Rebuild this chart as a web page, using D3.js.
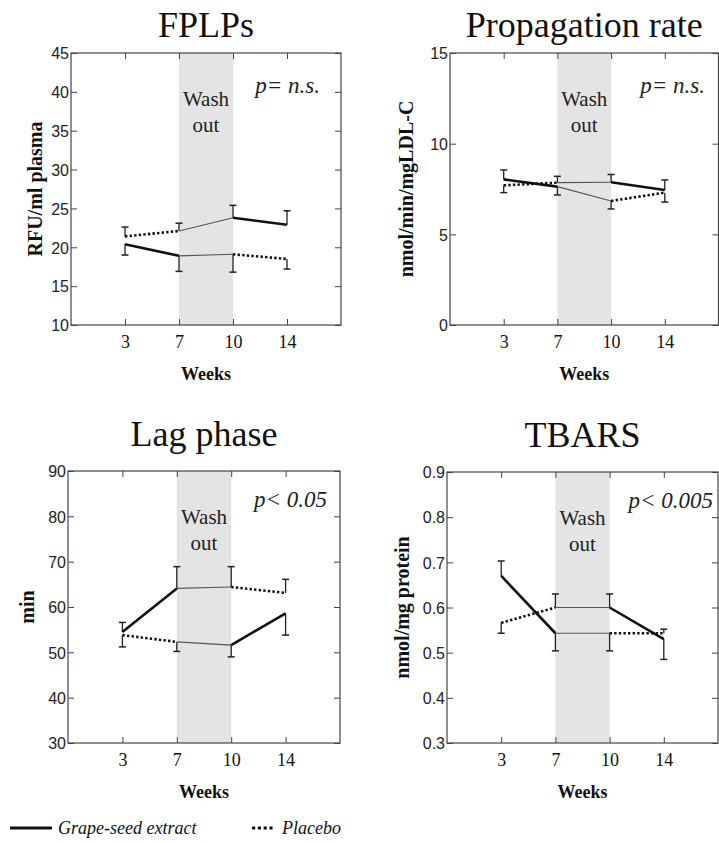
<!DOCTYPE html>
<html>
<head>
<meta charset="utf-8">
<script src="https://cdn.jsdelivr.net/npm/d3@7"></script>
<style>
  html, body { margin: 0; padding: 0; background: #fff; }
  svg { display: block; }
</style>
</head>
<body>
<svg id="chart" width="719" height="843"></svg>
<script>
// ---------------- DATA ----------------
const weeks = ["3", "7", "10", "14"];
// Series A: grape-seed extract first (weeks 3-7), wash-out (7-10), placebo (10-14)
// Series B: placebo first (weeks 3-7), wash-out (7-10), grape-seed extract (10-14)
// "Err" arrays hold the end of each error bar (SEM)

const fplpA    = [20.4, 18.9, 19.1, 18.5];
const fplpAErr = [19.0, 16.9, 16.8, 17.2];
const fplpB    = [21.4, 22.1, 23.8, 22.9];
const fplpBErr = [22.6, 23.1, 25.4, 24.7];
const fplpTicks = [10, 15, 20, 25, 30, 35, 40, 45];

const propA    = [8.03, 7.63, 6.84, 7.30];
const propAErr = [8.55, 7.17, 6.40, 6.78];
const propB    = [7.70, 7.85, 7.87, 7.44];
const propBErr = [7.30, 8.20, 8.30, 8.00];
const propTicks = [0, 5, 10, 15];

const lagA    = [54.5, 64.1, 64.4, 63.1];
const lagAErr = [56.6, 68.9, 68.9, 66.1];
const lagB    = [53.8, 52.3, 51.6, 58.6];
const lagBErr = [51.2, 50.2, 49.0, 53.8];
const lagTicks = [30, 40, 50, 60, 70, 80, 90];

const tbarsA    = [0.670, 0.543, 0.543, 0.543];
const tbarsAErr = [0.703, 0.504, 0.504, 0.552];
const tbarsB    = [0.566, 0.600, 0.600, 0.530];
const tbarsBErr = [0.543, 0.630, 0.630, 0.485];
const tbarsTicks = [0.3, 0.4, 0.5, 0.6, 0.7, 0.8, 0.9];

const titles  = ["FPLPs", "Propagation rate", "Lag phase", "TBARS"];
const yLabels = ["RFU/ml plasma", "nmol/min/mgLDL-C", "min", "nmol/mg protein"];
const pTexts  = ["p= n.s.", "p= n.s.", "p< 0.05", "p< 0.005"];
const legendLabels = ["Grape-seed extract", "Placebo"];

// ---------------- LAYOUT ----------------
const panels = [
  { a: fplpA, aErr: fplpAErr, b: fplpB, bErr: fplpBErr, ticks: fplpTicks, fmt: d3.format("d"),
    box: { l: 71, r: 341, t: 53, b: 325 }, ylabX: 42, pX: 320, pY: 93 },
  { a: propA, aErr: propAErr, b: propB, bErr: propBErr, ticks: propTicks, fmt: d3.format("d"),
    box: { l: 450, r: 718.5, t: 53, b: 325 }, ylabX: 413, pX: 705, pY: 93 },
  { a: lagA, aErr: lagAErr, b: lagB, bErr: lagBErr, ticks: lagTicks, fmt: d3.format("d"),
    box: { l: 68, r: 340, t: 471, b: 743 }, ylabX: 34, pX: 327, pY: 507 },
  { a: tbarsA, aErr: tbarsAErr, b: tbarsB, bErr: tbarsBErr, ticks: tbarsTicks, fmt: d3.format(".1f"),
    box: { l: 447, r: 718, t: 472, b: 743 }, ylabX: 409, pX: 713, pY: 508 }
];

const SERIF = "'Liberation Serif', 'Times New Roman', serif";
const SANS = "'Liberation Sans', Arial, Helvetica, sans-serif";
const frameColor = "#444";

// segment styles: segment 0 (3-7), 1 (7-10), 2 (10-14)
const styleThick  = { w: 2.6, dash: null, color: "#111" };
const styleDotted = { w: 2.6, dash: "2.4,2.2", color: "#111" };
const styleThin   = { w: 1.1, dash: null, color: "#555" };
const segStylesA = [styleThick, styleThin, styleDotted];
const segStylesB = [styleDotted, styleThin, styleThick];

const svg = d3.select("#chart");

panels.forEach((p, i) => {
  const g = svg.append("g");
  const bx = p.box;
  const x = d3.scaleLinear().domain([-1, weeks.length]).range([bx.l, bx.r]);
  const y = d3.scaleLinear().domain(d3.extent(p.ticks)).range([bx.b, bx.t]);

  // wash-out shading (weeks 7 -> 10)
  g.append("rect")
    .attr("x", x(1)).attr("y", bx.t)
    .attr("width", x(2) - x(1)).attr("height", bx.b - bx.t)
    .attr("fill", "#e4e4e4");

  // axes (inward ticks on all sides)
  const idx = d3.range(weeks.length);
  const bottomAxis = d3.axisBottom(x).tickValues(idx).tickSize(-6).tickFormat(d => weeks[d]);
  const topAxis = d3.axisTop(x).tickValues(idx).tickSize(-6).tickFormat("");
  const leftAxis = d3.axisLeft(y).tickValues(p.ticks).tickSize(-6).tickFormat(p.fmt);
  const rightAxis = d3.axisRight(y).tickValues(p.ticks).tickSize(-6).tickFormat("");

  const gb = g.append("g").attr("transform", `translate(0,${bx.b})`).call(bottomAxis);
  const gt = g.append("g").attr("transform", `translate(0,${bx.t})`).call(topAxis);
  const gl = g.append("g").attr("transform", `translate(${bx.l},0)`).call(leftAxis);
  const gr = g.append("g").attr("transform", `translate(${bx.r},0)`).call(rightAxis);
  [gb, gt, gl, gr].forEach(a => {
    a.select(".domain").remove();
    a.selectAll(".tick line").attr("stroke", frameColor).attr("stroke-width", 1);
  });
  gb.selectAll(".tick text")
    .style("font-family", SERIF).attr("font-size", 18).attr("fill", "#111")
    .attr("y", 0).attr("dy", 0).attr("transform", "translate(0,23)");
  gl.selectAll(".tick text")
    .style("font-family", SANS).attr("font-size", 16).attr("fill", "#222")
    .attr("x", -2).attr("dy", "0.36em");

  // frame
  g.append("rect")
    .attr("x", bx.l).attr("y", bx.t)
    .attr("width", bx.r - bx.l).attr("height", bx.b - bx.t)
    .attr("fill", "none").attr("stroke", frameColor).attr("stroke-width", 1.2);

  // wash-out label
  const cx = (x(1) + x(2)) / 2;
  g.append("text").attr("x", cx).attr("y", bx.t + 53)
    .attr("text-anchor", "middle").style("font-family", SERIF).attr("font-size", 21)
    .attr("fill", "#222").text("Wash");
  g.append("text").attr("x", cx).attr("y", bx.t + 79)
    .attr("text-anchor", "middle").style("font-family", SERIF).attr("font-size", 21)
    .attr("fill", "#222").text("out");

  // p value
  g.append("text").attr("x", p.pX).attr("y", p.pY)
    .attr("text-anchor", "end").style("font-family", SERIF).attr("font-style", "italic")
    .attr("font-size", 23).attr("fill", "#222").text(pTexts[i]);

  // error bars
  const drawErr = (vals, errs) => {
    vals.forEach((v, k) => {
      const xx = x(k);
      g.append("line").attr("x1", xx).attr("x2", xx)
        .attr("y1", y(v)).attr("y2", y(errs[k]))
        .attr("stroke", "#222").attr("stroke-width", 1.3);
      g.append("line").attr("x1", xx - 3.5).attr("x2", xx + 3.5)
        .attr("y1", y(errs[k])).attr("y2", y(errs[k]))
        .attr("stroke", "#222").attr("stroke-width", 1.5);
    });
  };
  drawErr(p.a, p.aErr);
  drawErr(p.b, p.bErr);

  // lines by segment
  const line = d3.line().x(d => x(d[0])).y(d => y(d[1]));
  const drawSeries = (vals, styles) => {
    for (let k = 0; k < vals.length - 1; k++) {
      const st = styles[k];
      g.append("path")
        .attr("d", line([[k, vals[k]], [k + 1, vals[k + 1]]]))
        .attr("fill", "none").attr("stroke", st.color)
        .attr("stroke-width", st.w)
        .attr("stroke-dasharray", st.dash);
    }
  };
  drawSeries(p.b, segStylesB);
  drawSeries(p.a, segStylesA);

  // title
  g.append("text").attr("x", (bx.l + bx.r) / 2).attr("y", bx.t - (i < 2 ? 16 : 25))
    .attr("text-anchor", "middle").style("font-family", SERIF).attr("font-size", 36)
    .attr("fill", "#111").text(titles[i]);

  // x axis label
  g.append("text").attr("x", (bx.l + bx.r) / 2).attr("y", bx.b + 55)
    .attr("text-anchor", "middle").style("font-family", SERIF).attr("font-weight", "bold")
    .attr("font-size", 18).attr("fill", "#111").text("Weeks");

  // y axis label
  g.append("text")
    .attr("transform", `translate(${p.ylabX},${(bx.t + bx.b) / 2}) rotate(-90)`)
    .attr("text-anchor", "middle").style("font-family", SERIF).attr("font-weight", "bold")
    .attr("font-size", 20).attr("fill", "#111").text(yLabels[i]);
});

// ---------------- LEGEND ----------------
const lg = svg.append("g");
const ly = 828;
lg.append("line").attr("x1", 10).attr("x2", 52).attr("y1", ly).attr("y2", ly)
  .attr("stroke", "#111").attr("stroke-width", 3.2);
lg.append("text").attr("x", 58).attr("y", ly + 6)
  .style("font-family", SERIF).attr("font-style", "italic").attr("font-size", 18)
  .attr("fill", "#111").text(legendLabels[0]);
lg.append("line").attr("x1", 252).attr("x2", 274).attr("y1", ly).attr("y2", ly)
  .attr("stroke", "#111").attr("stroke-width", 3.2).attr("stroke-dasharray", "3.2,2.6");
lg.append("text").attr("x", 282).attr("y", ly + 6)
  .style("font-family", SERIF).attr("font-style", "italic").attr("font-size", 18)
  .attr("fill", "#111").text(legendLabels[1]);
</script>
</body>
</html>
